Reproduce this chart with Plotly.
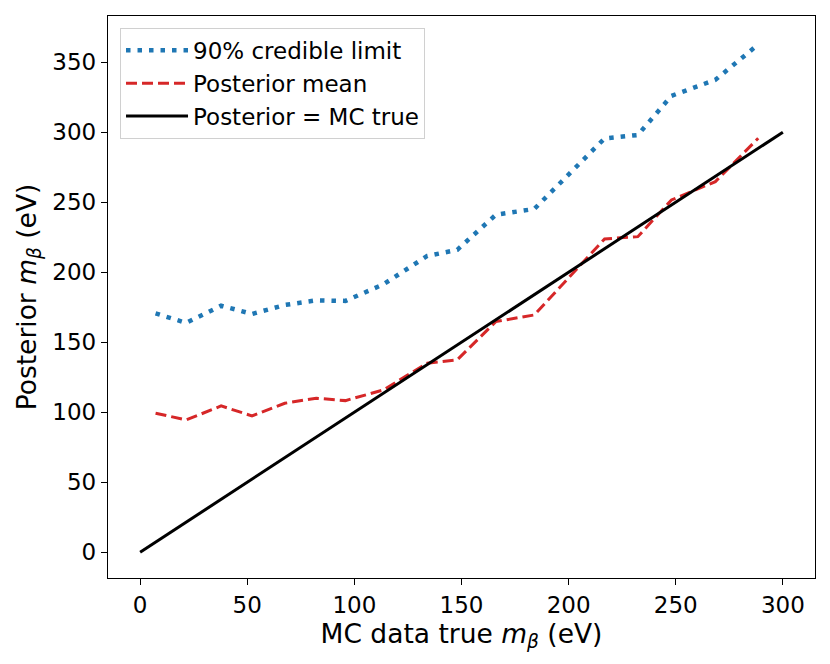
import plotly.graph_objects as go

# MC true m_beta values (eV) at which the posterior was evaluated
mc_true = [7.2, 21.5, 37.8, 52.2, 67.5, 82.2, 95.8, 113.5, 134.0, 148.0,
           166.0, 184.0, 216.8, 232.3, 248.0, 268.5, 288.5]

# 90% credible upper limit (eV)
cred_limit = [170.6, 163.8, 176.1, 170.2, 176.6, 179.9, 179.5, 191.3, 211.6, 216.0,
              241.0, 245.2, 295.6, 298.0, 326.0, 337.4, 362.7]

# posterior mean (eV)
post_mean = [99.3, 94.5, 104.5, 97.4, 106.4, 110.0, 108.3, 115.9, 135.0, 137.4,
             164.7, 169.5, 223.8, 225.4, 251.6, 264.7, 295.7]

# identity line
ident = [0, 300]

FONT = "DejaVu Sans"

fig = go.Figure()

fig.add_trace(go.Scatter(
    x=mc_true, y=cred_limit, mode="lines", name="90% credible limit",
    legendgroup="a",
    line=dict(color="#1f77b4", width=4.5, dash="4.5px,7px"),
))
fig.add_trace(go.Scatter(
    x=mc_true, y=post_mean, mode="lines", name="Posterior mean",
    legendgroup="b",
    line=dict(color="#d62728", width=3, dash="11px,5px"),
))
fig.add_trace(go.Scatter(
    x=ident, y=ident, mode="lines", name="Posterior = MC true",
    legendgroup="c",
    line=dict(color="black", width=3),
))

axis_style = dict(
    showgrid=False, zeroline=False,
    showline=True, linecolor="black", linewidth=1.3, mirror=True,
    ticks="outside", ticklen=6, tickwidth=1.3, tickcolor="black",
    tickfont=dict(family=FONT, size=23, color="black"),
)

# the page body adds an 8px offset, so the figure is 8px smaller and shifted margins
fig.update_layout(
    width=822, height=656,
    margin=dict(l=100, r=15, t=8, b=86),
    paper_bgcolor="white", plot_bgcolor="white",
    font=dict(family=FONT, color="black"),
    showlegend=True,
    legend=dict(
        x=0.017, y=0.979, xanchor="left", yanchor="top",
        bgcolor="rgba(255,255,255,0.8)", bordercolor="#d0d0d0", borderwidth=1,
        font=dict(family=FONT, size=23, color="black"),
        itemwidth=62, tracegroupgap=0,
    ),
)

fig.update_xaxes(
    range=[-15, 315], tickvals=[0, 50, 100, 150, 200, 250, 300],
    title=dict(text="MC data true <i>m</i><sub><i>β</i></sub> (eV)",
               font=dict(family=FONT, size=26.5), standoff=4),
    **axis_style,
)
fig.update_yaxes(
    range=[-18.4, 383], tickvals=[0, 50, 100, 150, 200, 250, 300, 350],
    title=dict(text="Posterior <i>m</i><sub><i>β</i></sub> (eV)",
               font=dict(family=FONT, size=26.5), standoff=8),
    **axis_style,
)

fig.write_html("out.html")
